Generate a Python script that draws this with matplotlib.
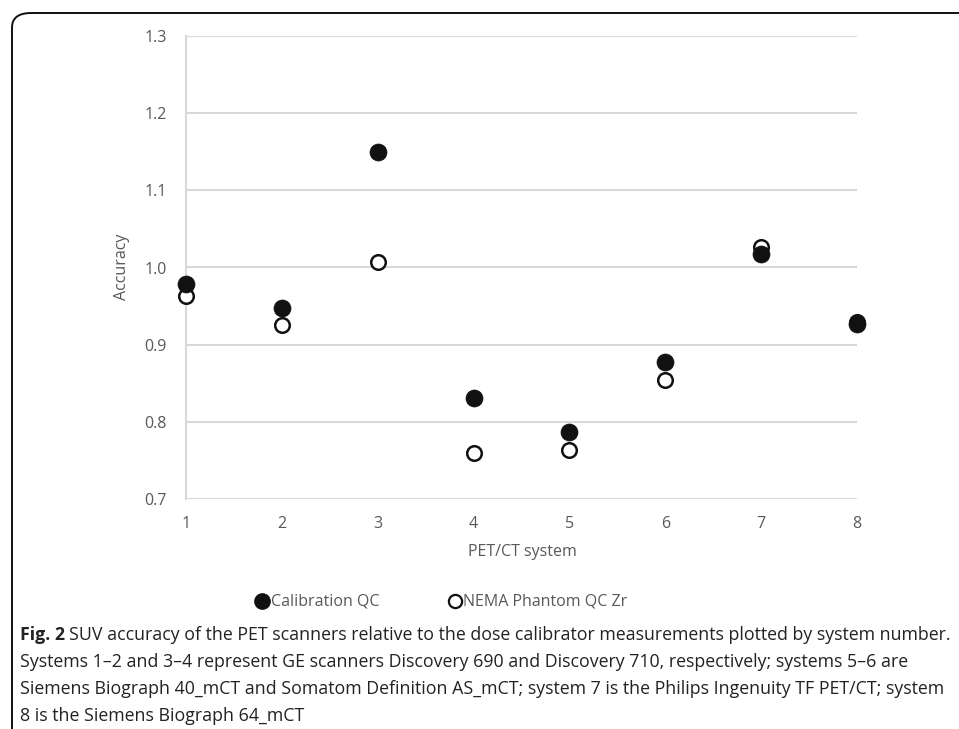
import matplotlib.pyplot as plt
from matplotlib.patches import FancyBboxPatch

systems = [1, 2, 3, 4, 5, 6, 7, 8]
calibration_qc = [0.978, 0.948, 1.150, 0.831, 0.787, 0.877, 1.018, 0.927]
nema_phantom_qc = [0.963, 0.925, 1.007, 0.759, 0.764, 0.854, 1.027, 0.930]
y_ticks = [0.7, 0.8, 0.9, 1.0, 1.1, 1.2, 1.3]

W, H = 959, 729

plt.rcParams["font.family"] = ["Open Sans", "DejaVu Sans"]

fig = plt.figure(figsize=(W / 100, H / 100), dpi=100)
ax = fig.add_axes([186 / W, 1 - 499 / H, (857 - 186) / W, (499 - 36) / H])

grey = "#595959"
grid = "#d9d9d9"

ax.scatter(systems, nema_phantom_qc, s=110, facecolor="white", edgecolor="#111111",
           linewidth=1.8, zorder=3, clip_on=False, label="NEMA Phantom QC Zr")
ax.scatter(systems, calibration_qc, s=150, facecolor="#111111", edgecolor="#111111",
           linewidth=0.5, zorder=4, clip_on=False, label="Calibration QC")

ax.set_xlim(1, 8)
ax.set_ylim(0.7, 1.3)
ax.set_xticks(systems)
ax.set_yticks(y_ticks)
ax.set_yticklabels([f"{v:.1f}" for v in y_ticks])
ax.yaxis.grid(True, color=grid, linewidth=1.5)
ax.set_axisbelow(True)
for side in ["top", "right", "bottom"]:
    ax.spines[side].set_visible(False)
ax.spines["left"].set_color(grid)
ax.spines["left"].set_linewidth(1.5)
ax.tick_params(length=0, labelsize=11.5, colors=grey, pad=14)
ax.tick_params(axis="x", pad=12)

fig.text(122 / W, 1 - 267 / H, "Accuracy", rotation=90, ha="center", va="center",
         fontsize=11.5, color=grey)
fig.text(522 / W, 1 - 552 / H, "PET/CT system", ha="center", va="center",
         fontsize=11.5, color=grey)

# legend
fig.lines.append(plt.Line2D([262 / W], [1 - 601 / H], transform=fig.transFigure,
                            marker="o", markersize=11, color="#111111", linestyle="none"))
fig.text(271 / W, 1 - 601 / H, "Calibration QC", ha="left", va="center",
         fontsize=11.5, color=grey)
fig.lines.append(plt.Line2D([455 / W], [1 - 601 / H], transform=fig.transFigure,
                            marker="o", markersize=9.5, markerfacecolor="white",
                            markeredgecolor="#111111", markeredgewidth=1.6, linestyle="none"))
fig.text(463 / W, 1 - 601 / H, "NEMA Phantom QC Zr", ha="left", va="center",
         fontsize=11.5, color=grey)

# caption
first_line = "SUV accuracy of the PET scanners relative to the dose calibrator measurements plotted by system number."
caption = [
    "Systems 1\u20132 and 3\u20134 represent GE scanners Discovery 690 and Discovery 710, respectively; systems 5\u20136 are",
    "Siemens Biograph 40_mCT and Somatom Definition AS_mCT; system 7 is the Philips Ingenuity TF PET/CT; system",
    "8 is the Siemens Biograph 64_mCT",
]
cap_size = 13.5
head = fig.text(20 / W, 1 - 635 / H, "Fig. 2", ha="left", va="center", fontsize=cap_size,
                fontweight="bold", color="#222222")
body = fig.text(80 / W, 1 - 635 / H, first_line, ha="left", va="center",
                fontsize=cap_size, color="#222222")
fig.canvas.draw()
r = fig.canvas.get_renderer()
total = head.get_window_extent(r).width + 5 + body.get_window_extent(r).width
cap_size = cap_size * 932 / total
head.set_fontsize(cap_size)
body.set_fontsize(cap_size)
fig.canvas.draw()
body.set_x((head.get_window_extent(r).x1 + 4) / W)
for i, line in enumerate(caption):
    fig.text(20 / W, 1 - (662 + 27 * i) / H, line, ha="left", va="center",
             fontsize=cap_size, color="#222222")

# frame
frame = FancyBboxPatch((12 / W, -0.2), 1.2, 1 - 13 / H + 0.2,
                       boxstyle="round,pad=0,rounding_size=0.02",
                       transform=fig.transFigure, facecolor="none",
                       edgecolor="#111111", linewidth=1.4, clip_on=False)
fig.patches.append(frame)

fig.savefig("out.png", dpi=100)
